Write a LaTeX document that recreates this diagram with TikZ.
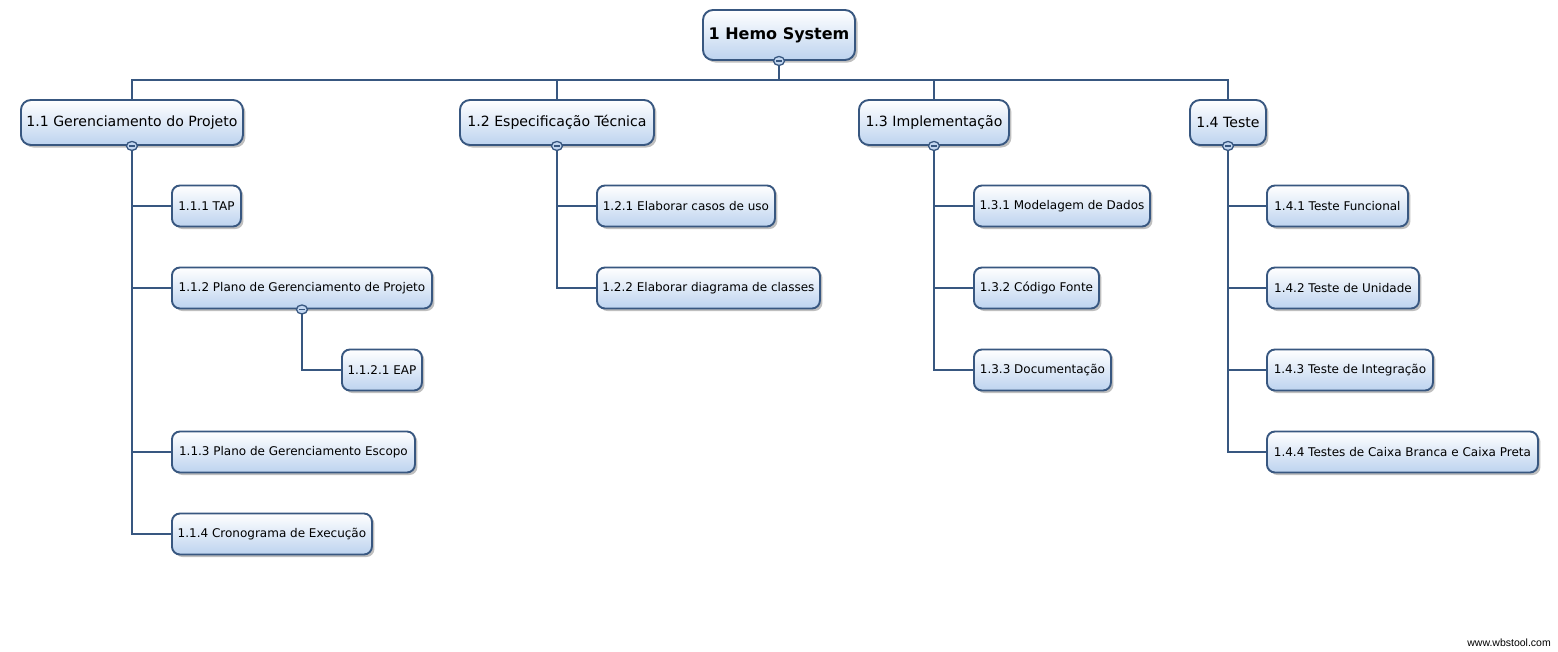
\documentclass[tikz,border=0pt]{standalone}
\usepackage{fontspec}
\setmainfont{DejaVu Sans}
\newfontfamily\wmfont{Liberation Sans}
\usetikzlibrary{shadows,shapes.geometric}
\definecolor{lineC}{HTML}{385780}
\definecolor{boxBot}{HTML}{BDD3EF}
\definecolor{dotFill}{HTML}{C2D6F0}
\tikzset{
  wbsbox/.style={rectangle, rounded corners=8pt, draw=lineC, line width=1.9pt,
    top color=white, bottom color=boxBot, inner sep=0pt, anchor=west, align=center,
    drop shadow={shadow xshift=2.5pt, shadow yshift=-2.5pt, fill=black!55, opacity=.45}},
  rootbox/.style={wbsbox, anchor=center, minimum height=50pt, font=\fontsize{16}{18}\selectfont\bfseries, rounded corners=10pt},
  lonebox/.style={wbsbox, minimum height=45pt, font=\fontsize{14.1}{16}\selectfont, rounded corners=10pt},
  ltwobox/.style={wbsbox, minimum height=41pt, font=\fontsize{12}{14}\selectfont},
  conn/.style={draw=lineC, line width=2pt},
  collapse/.style={ellipse, draw=lineC, line width=1.3pt, fill=dotFill, minimum width=11pt, minimum height=9pt, inner sep=0pt,
    path picture={\draw[lineC, line width=1.2pt] ([xshift=-3pt]path picture bounding box.center) -- ([xshift=3pt]path picture bounding box.center);}},
}
\begin{document}
\begin{tikzpicture}[x=1pt,y=-1pt]
\useasboundingbox[fill=white] (0,0) rectangle (1558,651);

% root
\node[rootbox, minimum width=152pt] (root) at (779,35) {1 Hemo System};

% level 1
\node[lonebox, minimum width=222pt] (n11) at (20,122.5) {1.1 Gerenciamento do Projeto};
\node[lonebox, minimum width=194pt] (n12) at (459,122.5) {1.2 Especificação Técnica};
\node[lonebox, minimum width=150pt] (n13) at (858,122.5) {1.3 Implementação};
\node[lonebox, minimum width=76pt] (n14) at (1189,122.5) {1.4 Teste};

% level 2 under 1.1
\node[ltwobox, minimum width=69pt] (n111) at (171,206) {1.1.1 TAP};
\node[ltwobox, minimum width=260pt] (n112) at (171,288) {1.1.2 Plano de Gerenciamento de Projeto};
\node[ltwobox, minimum width=80pt] (n1121) at (341,370) {1.1.2.1 EAP};
\node[ltwobox, minimum width=243pt] (n113) at (171,452) {1.1.3 Plano de Gerenciamento Escopo};
\node[ltwobox, minimum width=200pt] (n114) at (171,534) {1.1.4 Cronograma de Execução};

% under 1.2
\node[ltwobox, minimum width=178pt] (n121) at (596,206) {1.2.1 Elaborar casos de uso};
\node[ltwobox, minimum width=223pt] (n122) at (596,288) {1.2.2 Elaborar diagrama de classes};

% under 1.3
\node[ltwobox, minimum width=176pt] (n131) at (973,206) {1.3.1 Modelagem de Dados};
\node[ltwobox, minimum width=125pt] (n132) at (973,288) {1.3.2 Código Fonte};
\node[ltwobox, minimum width=137pt] (n133) at (973,370) {1.3.3 Documentação};

% under 1.4
\node[ltwobox, minimum width=141pt] (n141) at (1266,206) {1.4.1 Teste Funcional};
\node[ltwobox, minimum width=152pt] (n142) at (1266,288) {1.4.2 Teste de Unidade};
\node[ltwobox, minimum width=166pt] (n143) at (1266,370) {1.4.3 Teste de Integração};
\node[ltwobox, minimum width=271pt] (n144) at (1266,452) {1.4.4 Testes de Caixa Branca e Caixa Preta};

% connectors
\coordinate (bar) at (779,80);
\draw[conn] (root.south) -- (bar);
\draw[conn] (n11.north) |- (bar) -| (n14.north);
\draw[conn] (n12.north) -- (n12.north |- bar);
\draw[conn] (n13.north) -- (n13.north |- bar);

\foreach \c in {n111,n112,n113,n114} \draw[conn] (n11.south) |- (\c.west);
\draw[conn] (n112.south) |- (n1121.west);
\foreach \c in {n121,n122} \draw[conn] (n12.south) |- (\c.west);
\foreach \c in {n131,n132,n133} \draw[conn] (n13.south) |- (\c.west);
\foreach \c in {n141,n142,n143,n144} \draw[conn] (n14.south) |- (\c.west);

% collapse markers
\node[collapse] (c0) at (root.south) {};
\node[collapse] (c11) at (n11.south) {};
\node[collapse] (c112) at (n112.south) {};
\node[collapse] (c12) at (n12.south) {};
\node[collapse] (c13) at (n13.south) {};
\node[collapse] (c14) at (n14.south) {};

% watermark
\node[font=\wmfont\fontsize{10.5}{12}\selectfont, anchor=east, inner sep=0pt] (wm) at (1551,643) {www.wbstool.com};
\end{tikzpicture}
\end{document}
